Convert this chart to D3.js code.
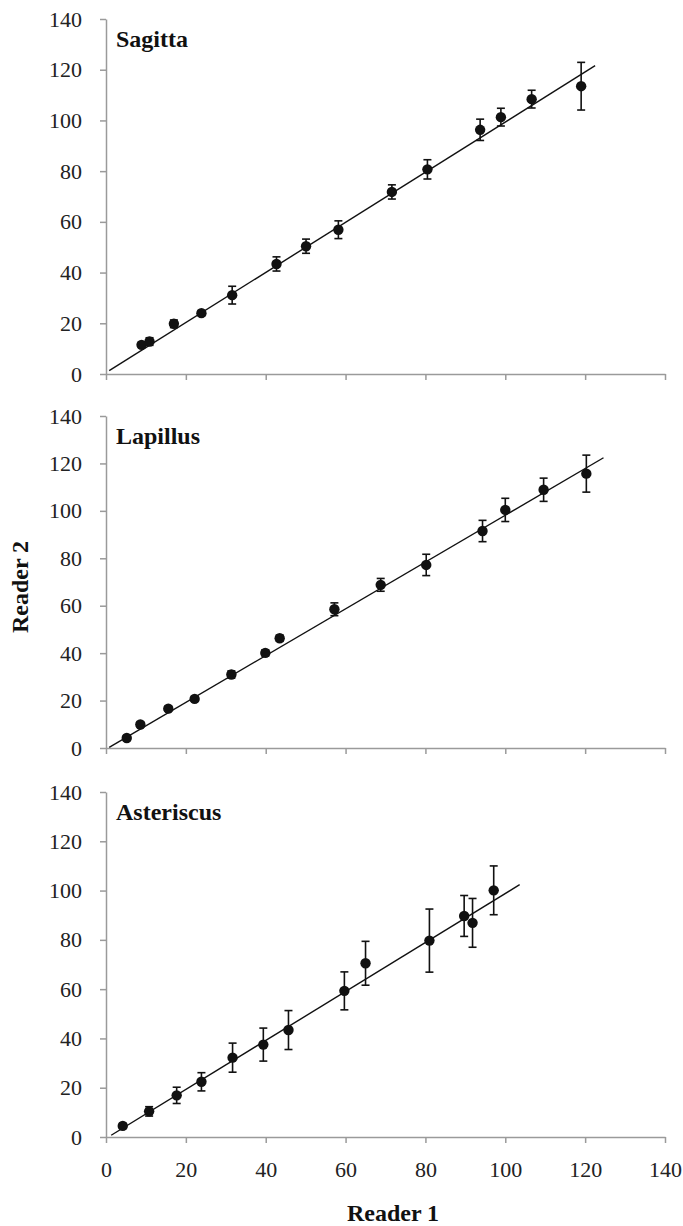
<!DOCTYPE html>
<html>
<head>
<meta charset="utf-8">
<script src="https://cdn.jsdelivr.net/npm/d3@7"></script>
<style>
  body { margin: 0; background: #fff; }
</style>
</head>
<body>
<script>
// tick values shared by all three panels
var xTicks = [0, 20, 40, 60, 80, 100, 120, 140];
var yTicks = [0, 20, 40, 60, 80, 100, 120, 140];

var panelNames = ["Sagitta", "Lapillus", "Asteriscus"];

// Sagitta
var sagittaR1  = [8.9, 10.9, 17.0, 23.9, 31.6, 42.7, 50.1, 58.2, 71.6, 80.5, 93.7, 98.9, 106.6, 119.0];
var sagittaR2  = [11.5, 12.8, 19.8, 24.0, 31.1, 43.4, 50.4, 56.9, 71.8, 80.7, 96.3, 101.3, 108.4, 113.5];
var sagittaErr = [1.0, 1.5, 1.5, 1.0, 3.5, 2.8, 2.8, 3.5, 2.8, 3.8, 4.2, 3.5, 3.5, 9.4];
var sagittaFit = [[0.8, 1.3], [122.5, 121.6]];

// Lapillus
var lapillusR1  = [5.2, 8.6, 15.6, 22.2, 31.4, 39.9, 43.5, 57.2, 68.8, 80.2, 94.3, 100.0, 109.6, 120.3];
var lapillusR2  = [4.2, 9.9, 16.6, 20.7, 31.0, 40.1, 46.3, 58.5, 68.8, 77.2, 91.5, 100.4, 108.9, 115.7];
var lapillusErr = [1.0, 1.0, 1.0, 1.0, 1.5, 1.3, 1.3, 2.7, 2.7, 4.5, 4.5, 4.9, 4.9, 7.8];
var lapillusFit = [[0.8, 0.3], [124.6, 122.4]];

// Asteriscus
var asteriscusR1  = [4.2, 10.8, 17.7, 23.9, 31.7, 39.4, 45.7, 59.7, 65.0, 81.0, 89.7, 91.8, 97.1];
var asteriscusR2  = [4.5, 10.4, 16.9, 22.4, 32.2, 37.5, 43.4, 59.3, 70.5, 79.7, 89.7, 86.9, 100.1];
var asteriscusErr = [1.0, 1.9, 3.3, 3.7, 5.9, 6.7, 7.9, 7.7, 8.9, 12.8, 8.3, 9.9, 9.9];
var asteriscusFit = [[1.3, 0.7], [103.6, 102.4]];

var seriesR1  = [sagittaR1, lapillusR1, asteriscusR1];
var seriesR2  = [sagittaR2, lapillusR2, asteriscusR2];
var seriesErr = [sagittaErr, lapillusErr, asteriscusErr];
var seriesFit = [sagittaFit, lapillusFit, asteriscusFit];

var width = 683, height = 1226;
var xLeft = 106, xRight = 665;
var panelBox = [{top: 19, bottom: 374}, {top: 416, bottom: 748}, {top: 792, bottom: 1137}];
var serif = "Liberation Serif, Times New Roman, serif";

var svg = d3.select("body").append("svg")
    .attr("width", width).attr("height", height);

var x = d3.scaleLinear().domain([0, 140]).range([xLeft, xRight]);

function styleAxis(sel) {
    sel.attr("font-family", serif).attr("font-size", 22);
    sel.selectAll("path, line").attr("stroke", "#9a9a9a").attr("stroke-width", 1.5);
    sel.selectAll("text").style("font-family", serif).attr("fill", "#222");
}

panelNames.forEach(function(name, i) {
    var box = panelBox[i];
    var y = d3.scaleLinear().domain([0, 140]).range([box.bottom, box.top]);
    var g = svg.append("g");

    var yAxis = d3.axisLeft(y).tickValues(yTicks).tickSize(6).tickSizeOuter(0).tickPadding(18);
    var xAxis = d3.axisBottom(x).tickValues(xTicks).tickSize(6).tickSizeOuter(0).tickPadding(18);
    if (i < 2) xAxis.tickFormat("");

    g.append("g").attr("transform", "translate(" + xLeft + ",0)").call(yAxis).call(styleAxis);
    g.append("g").attr("transform", "translate(0," + box.bottom + ")").call(xAxis).call(styleAxis);

    // fitted line
    g.append("path")
        .attr("d", d3.line().x(function(d){ return x(d[0]); }).y(function(d){ return y(d[1]); })(seriesFit[i]))
        .attr("fill", "none").attr("stroke", "#111").attr("stroke-width", 1.4);

    var pts = seriesR1[i].map(function(v, k) {
        return {r1: v, r2: seriesR2[i][k], e: seriesErr[i][k]};
    });

    var bars = g.selectAll(".eb").data(pts).enter().append("g")
        .attr("stroke", "#111").attr("stroke-width", 1.6);
    bars.append("line")
        .attr("x1", function(d){ return x(d.r1); }).attr("x2", function(d){ return x(d.r1); })
        .attr("y1", function(d){ return y(d.r2 + d.e); }).attr("y2", function(d){ return y(d.r2 - d.e); });
    bars.append("line")
        .attr("x1", function(d){ return x(d.r1) - 4; }).attr("x2", function(d){ return x(d.r1) + 4; })
        .attr("y1", function(d){ return y(d.r2 + d.e); }).attr("y2", function(d){ return y(d.r2 + d.e); });
    bars.append("line")
        .attr("x1", function(d){ return x(d.r1) - 4; }).attr("x2", function(d){ return x(d.r1) + 4; })
        .attr("y1", function(d){ return y(d.r2 - d.e); }).attr("y2", function(d){ return y(d.r2 - d.e); });

    g.selectAll("circle").data(pts).enter().append("circle")
        .attr("cx", function(d){ return x(d.r1); })
        .attr("cy", function(d){ return y(d.r2); })
        .attr("r", 5.2).attr("fill", "#111");

    g.append("text")
        .attr("x", 116).attr("y", box.top + 28)
        .style("font-family", serif)
        .attr("font-weight", "bold").attr("font-size", 24).attr("fill", "#111")
        .text(name);
});

svg.append("text")
    .attr("transform", "translate(28,587) rotate(-90)")
    .attr("text-anchor", "middle")
    .style("font-family", serif)
    .attr("font-weight", "bold").attr("font-size", 24).attr("fill", "#111")
    .text("Reader 2");

svg.append("text")
    .attr("x", 393).attr("y", 1221)
    .attr("text-anchor", "middle")
    .style("font-family", serif)
    .attr("font-weight", "bold").attr("font-size", 24).attr("fill", "#111")
    .text("Reader 1");
</script>
</body>
</html>
